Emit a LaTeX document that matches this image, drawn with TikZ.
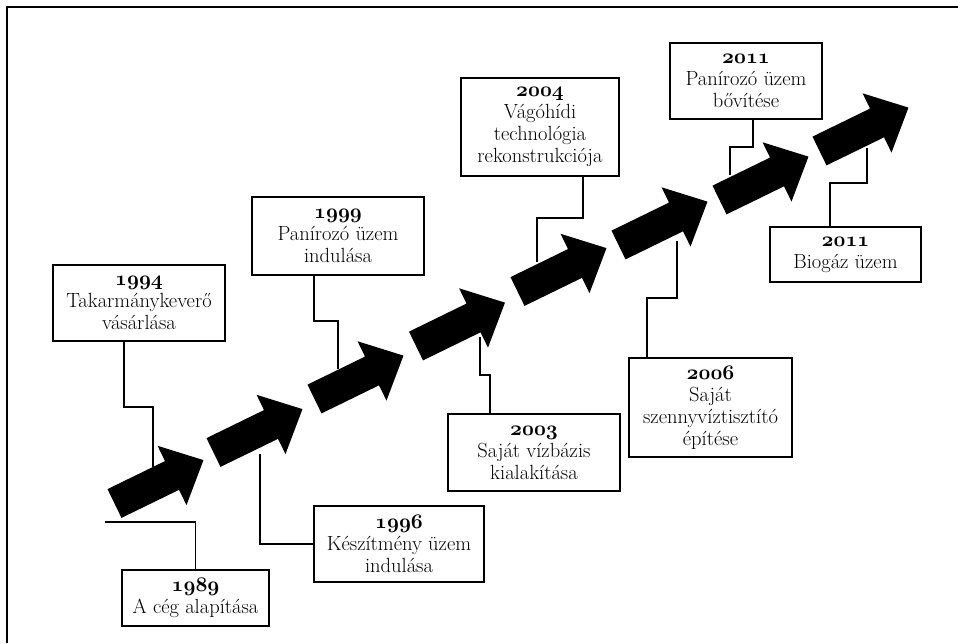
\documentclass[tikz,border=0pt]{standalone}
\usepackage{fontspec}
\usepackage{tikz}
\usetikzlibrary{calc}
\newcommand\yr[1]{{\fontencoding{OML}\fontfamily{cmm}\fontseries{b}\fontshape{it}\fontsize{20.74}{22}\selectfont#1}}

\begin{document}
\begin{tikzpicture}[x=1pt, y=-1pt,
      event/.style={draw, line width=2pt, align=center, inner sep=0pt, font=\fontsize{20.5}{22}\selectfont},
      link/.style={line width=1.3pt},
      steparrow/.pic={\fill (0,-16) -- (64,-16) -- (64,-33) -- (99,0) -- (64,33) -- (64,16) -- (0,16) -- cycle;}]
   \useasboundingbox (0,0) rectangle (958,643);
   \draw[line width=1.5pt] (7,643) -- (7,7) -- (958,7);
   % events
   \node[event, minimum width=147pt, minimum height=56pt] (y89) at (195.5,598) {\yr{1989}\\A cég alapítása};
   \node[event, minimum width=172pt, minimum height=76pt] (y94) at (139,303) {\yr{1994}\\Takarmánykeverő\\vásárlása};
   \node[event, minimum width=170pt, minimum height=76pt] (y96) at (399,544) {\yr{1996}\\Készítmény üzem\\indulása};
   \node[event, minimum width=172pt, minimum height=78pt] (y99) at (338,236) {\yr{1999}\\Panírozó üzem\\indulása};
   \node[event, minimum width=172pt, minimum height=77pt] (y03) at (534,452.5) {\yr{2003}\\Saját vízbázis\\kialakítása};
   \node[event, minimum width=158pt, minimum height=98pt] (y04) at (540,127) {\yr{2004}\\Vágóhídi\\technológia\\rekonstrukciója};
   \node[event, minimum width=163pt, minimum height=99pt] (y06) at (710.5,407.5) {\yr{2006}\\Saját\\szennyvíztisztító\\építése};
   \node[event, minimum width=152pt, minimum height=76pt] (y11a) at (746,81) {\yr{2011}\\Panírozó üzem\\bővítése};
   \node[event, minimum width=151pt, minimum height=55pt] (y11b) at (845.5,254.5) {\yr{2011}\\Biogáz üzem};
   % ends on the arrows
   \coordinate (e89) at (105,522);
   \coordinate (e94) at (153,467);
   \coordinate (e96) at (260,454);
   \coordinate (e99) at (338,369);
   \coordinate (e03) at (480,337);
   \coordinate (e04) at (537,262);
   \coordinate (e06) at (677,241);
   \coordinate (e11a) at (730,175);
   \coordinate (e11b) at (867,148);
   \draw[link] (y89.north) |- (e89);
   \draw[link] ([xshift=-15pt]y94.south) -- ++(0,65) -| (e94);
   \draw[link] (y96.west) -| (e96);
   \draw[link] ([xshift=-24pt]y99.south) -- ++(0,45) -| (e99);
   \draw[link] ([xshift=-44pt]y03.north) -- ++(0,-38) -| (e03);
   \draw[link] ([xshift=43pt]y04.south) -- ++(0,41) -| (e04);
   \draw[link] ([xshift=-63.5pt]y06.north) -- ++(0,-59) -| (e06);
   \draw[link] ([xshift=7pt]y11a.south) -- ++(0,27) -| (e11a);
   \draw[link] ([xshift=-15.5pt]y11b.north) -- ++(0,-43) -| (e11b);
   % arrows
   \foreach \tx/\ty in {114.5/503.5, 213.5/452.5, 314.5/399, 416/346, 517.5/291.5, 618.5/245, 719.5/200, 819.5/151}
      \pic[rotate=26] at (\tx,\ty) {steparrow};
\end{tikzpicture}
\end{document}
